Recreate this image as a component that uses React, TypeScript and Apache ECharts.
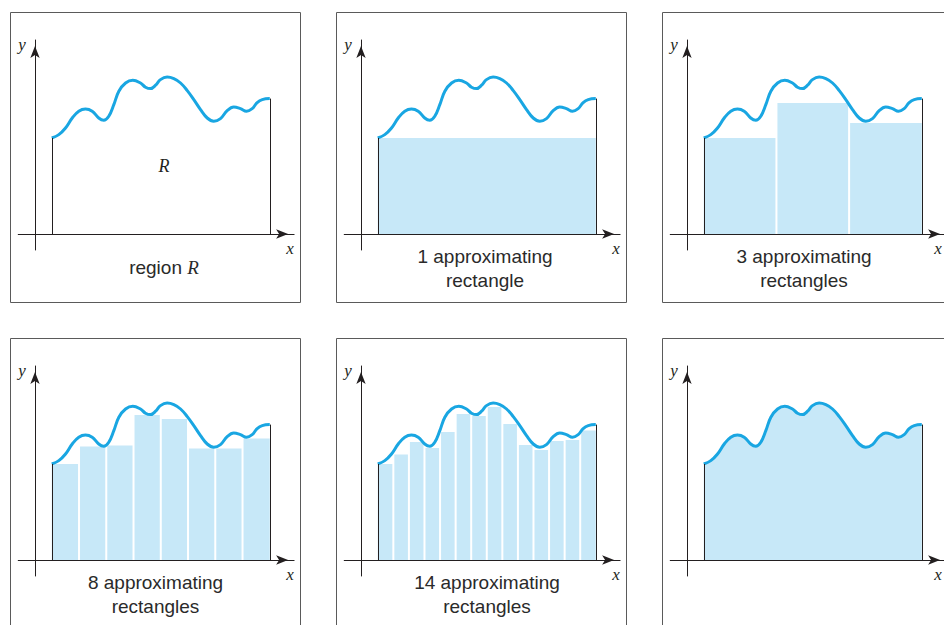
import React, { useEffect, useRef } from "react";
import * as echarts from "echarts";

// ---- data ----
const A = 1;
const B = 14;
const CURVE_X = [1, 1.42, 1.82, 2.22, 2.61, 3.01, 3.41, 3.8, 4.1, 4.4, 4.7, 5.0, 5.4, 5.83, 6.29, 6.59, 6.89, 7.19, 7.48, 7.88, 8.28, 8.68, 9.08, 9.47, 9.87, 10.27, 10.66, 11.06, 11.46, 11.85, 12.25, 12.61, 12.95, 13.25, 13.55, 14];
const CURVE_Y = [4.8, 4.97, 5.3, 5.8, 6.14, 6.25, 6.14, 5.8, 5.69, 5.89, 6.47, 7.14, 7.55, 7.69, 7.55, 7.34, 7.27, 7.44, 7.72, 7.85, 7.77, 7.55, 7.17, 6.72, 6.22, 5.8, 5.64, 5.77, 6.17, 6.35, 6.27, 6.14, 6.27, 6.57, 6.72, 6.77];
const RECTS_1 = [4.8];
const RECTS_3 = [4.8, 6.55, 5.55];
const RECTS_8 = [4.8, 5.67, 5.72, 7.25, 7.05, 5.57, 5.57, 6.07];
const RECTS_14 = [4.8, 5.27, 5.9, 5.6, 6.4, 7.3, 7.2, 7.65, 6.8, 5.75, 5.5, 5.95, 6.0, 6.47];
const PANEL_RECTS: (number[] | null)[] = [null, RECTS_1, RECTS_3, RECTS_8, RECTS_14, null];
const PANEL_FILLED = [false, false, false, false, false, true];
const PANEL_LABELS = ["", "1 approximating\nrectangle", "3 approximating\nrectangles", "8 approximating\nrectangles", "14 approximating\nrectangles", ""];

// ---- layout / style ----
const COL_LEFT = [10, 336, 662];
const ROW_TOP = [12, 338];
const BOX_W = 291;
const BOX_H = 291;
const YAXIS_DX = 25;
const XAXIS_DY = 222;
const X_UNIT = 16.77;
const Y_UNIT = 20;
const X_MIN = -1;
const X_MAX = 15.45;
const Y_MIN = -0.8;
const Y_MAX = 9.7;
const LABEL_X = [154, 149, 142, 145.5, 151, 150];
const XLETTER_DX = [280, 280, 276];
const CURVE_COLOR = "#19a6e2";
const FILL_COLOR = "#c7e8f8";
const AXIS_COLOR = "#231f20";
const TEXT_COLOR = "#2a2a2a";
const BOX_COLOR = "#5a5a5a";
const GAP = 2;
const SANS = "'Liberation Sans', Arial, sans-serif";
const SERIF = "'Liberation Serif', 'Times New Roman', serif";

function buildOption() {
  const grids: any[] = [];
  const xAxes: any[] = [];
  const yAxes: any[] = [];
  const series: any[] = [];
  const graphics: any[] = [];
  const curve = CURVE_X.map((x, i) => [x, CURVE_Y[i]]);
  const fa = CURVE_Y[0];
  const fb = CURVE_Y[CURVE_Y.length - 1];

  for (let i = 0; i < 6; i++) {
    const col = i % 3;
    const left = COL_LEFT[col];
    const top = ROW_TOP[Math.floor(i / 3)];
    grids.push({
      left: left + YAXIS_DX + X_MIN * X_UNIT,
      top: top + XAXIS_DY - Y_MAX * Y_UNIT,
      width: (X_MAX - X_MIN) * X_UNIT,
      height: (Y_MAX - Y_MIN) * Y_UNIT,
      containLabel: false,
      outerBoundsMode: "none",
    });
    const axisLine = {
      show: true,
      onZero: true,
      symbol: ["none", "arrow"],
      symbolSize: [7, 12],
      symbolOffset: [0, -6],
      lineStyle: { color: AXIS_COLOR, width: 1 },
    };
    xAxes.push({
      type: "value",
      gridIndex: i,
      min: X_MIN,
      max: X_MAX,
      z: 6,
      axisLine,
      axisTick: { show: false },
      axisLabel: { show: false },
      splitLine: { show: false },
    });
    yAxes.push({
      type: "value",
      gridIndex: i,
      min: Y_MIN,
      max: Y_MAX,
      z: 6,
      axisLine,
      axisTick: { show: false },
      axisLabel: { show: false },
      splitLine: { show: false },
    });

    const rects = PANEL_RECTS[i];
    if (rects) {
      const n = rects.length;
      const w = (B - A) / n;
      const data = rects.map((h, k) => [A + k * w, A + (k + 1) * w, h]);
      series.push({
        type: "custom",
        xAxisIndex: i,
        yAxisIndex: i,
        z: 2,
        silent: true,
        data,
        renderItem: (params: any, api: any) => {
          const x0 = api.value(0);
          const x1 = api.value(1);
          const h = api.value(2);
          const p0 = api.coord([x0, h]);
          const p1 = api.coord([x1, 0]);
          const idx = params.dataIndex;
          const l = p0[0] + (idx === 0 ? 0 : GAP / 2);
          const r = p1[0] - (idx === n - 1 ? 0 : GAP / 2);
          return {
            type: "rect",
            shape: { x: l, y: p0[1], width: r - l, height: p1[1] - p0[1] },
            style: { fill: FILL_COLOR },
          };
        },
      });
    }

    series.push({
      type: "line",
      xAxisIndex: i,
      yAxisIndex: i,
      data: curve,
      smooth: 0.4,
      showSymbol: false,
      silent: true,
      z: 4,
      lineStyle: { color: CURVE_COLOR, width: 3 },
      itemStyle: { color: CURVE_COLOR },
      areaStyle: PANEL_FILLED[i] ? { color: FILL_COLOR, opacity: 1 } : undefined,
    });

    series.push({
      type: "lines",
      coordinateSystem: "cartesian2d",
      xAxisIndex: i,
      yAxisIndex: i,
      z: 5,
      silent: true,
      lineStyle: { color: AXIS_COLOR, width: 1, opacity: 1 },
      data: [
        { coords: [[A, 0], [A, fa]] },
        { coords: [[B, 0], [B, fb]] },
      ],
    });

    // frame
    graphics.push({
      type: "rect",
      z: 10,
      silent: true,
      shape: { x: left + 0.5, y: top + 0.5, width: BOX_W - 1, height: BOX_H - 1 },
      style: { fill: "none", stroke: BOX_COLOR, lineWidth: 1 },
    });
    // axis letters
    graphics.push({
      type: "text",
      z: 10,
      x: left + 12,
      y: top + 32,
      style: { text: "y", font: `italic 17px ${SERIF}`, fill: AXIS_COLOR, align: "center", verticalAlign: "middle" },
    });
    graphics.push({
      type: "text",
      z: 10,
      x: left + XLETTER_DX[col],
      y: top + 236,
      style: { text: "x", font: `italic 17px ${SERIF}`, fill: AXIS_COLOR, align: "center", verticalAlign: "middle" },
    });
    if (PANEL_LABELS[i]) {
      graphics.push({
        type: "text",
        z: 10,
        x: left + LABEL_X[i],
        y: top + 256,
        style: {
          text: PANEL_LABELS[i],
          font: `19px ${SANS}`,
          lineHeight: 24,
          fill: TEXT_COLOR,
          align: "center",
          verticalAlign: "middle",
        },
      });
    }
    if (i === 0) {
      graphics.push({
        type: "text",
        z: 10,
        x: left + 154,
        y: top + 154,
        style: { text: "R", font: `italic 18px ${SERIF}`, fill: AXIS_COLOR, align: "center", verticalAlign: "middle" },
      });
      graphics.push({
        type: "text",
        z: 10,
        x: left + LABEL_X[0],
        y: top + 255,
        style: {
          text: "{a|region }{b|R}",
          align: "center",
          verticalAlign: "middle",
          rich: {
            a: { fontFamily: SANS, fontSize: 19, fill: TEXT_COLOR, color: TEXT_COLOR },
            b: { fontFamily: SERIF, fontStyle: "italic", fontSize: 19, fill: TEXT_COLOR, color: TEXT_COLOR },
          },
        },
      });
    }
  }

  return {
    animation: false,
    backgroundColor: "#ffffff",
    grid: grids,
    xAxis: xAxes,
    yAxis: yAxes,
    series,
    graphic: { elements: graphics },
  };
}

export default function App() {
  const ref = useRef<HTMLDivElement>(null);
  useEffect(() => {
    if (!ref.current) return;
    const chart = echarts.init(ref.current, undefined, { renderer: "svg" });
    chart.setOption(buildOption() as any);
    return () => chart.dispose();
  }, []);
  return (
    <div
      ref={ref}
      style={{ position: "absolute", left: 0, top: 0, width: 944, height: 625, background: "#fff" }}
    />
  );
}
